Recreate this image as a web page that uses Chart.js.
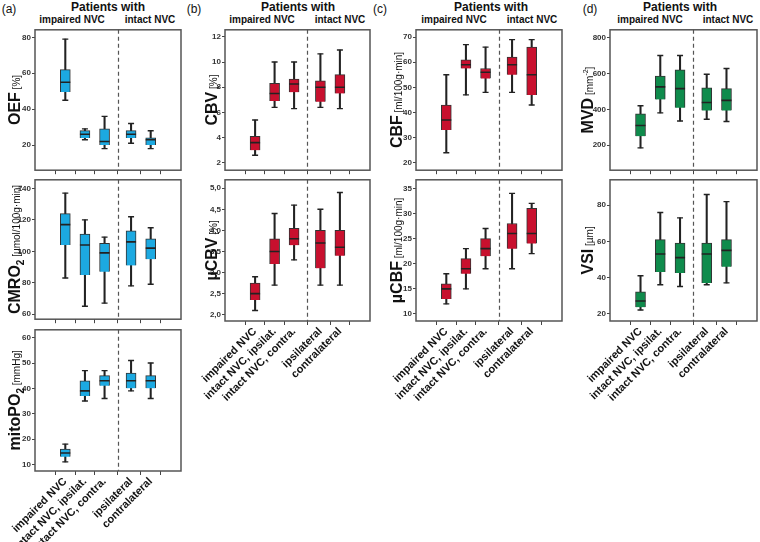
<!DOCTYPE html>
<html>
<head>
<meta charset="utf-8">
<script src="https://cdn.jsdelivr.net/npm/chart.js@4.4.1/dist/chart.umd.min.js"></script>
<style>
  body { margin: 0; background: #fff; width: 760px; height: 542px; position: relative; overflow: hidden;
         font-family: "Liberation Sans", Arial, sans-serif; }
  canvas { position: absolute; }
  .t { position: absolute; white-space: nowrap; line-height: 1; color: #111; transform: translateX(-50%); }
  .b { font-weight: bold; }
</style>
</head>
<body>
<div class="t" style="left:9px;top:3px;font-size:12px">(a)</div>
<div class="t" style="left:194px;top:3px;font-size:12px">(b)</div>
<div class="t" style="left:380px;top:3px;font-size:12px">(c)</div>
<div class="t" style="left:590px;top:3px;font-size:12px">(d)</div>

<div class="t b" style="left:108px;top:1px;font-size:12px">Patients with</div>
<div class="t b" style="left:298px;top:1px;font-size:12px">Patients with</div>
<div class="t b" style="left:491px;top:1px;font-size:12px">Patients with</div>
<div class="t b" style="left:680px;top:1px;font-size:12px">Patients with</div>

<div class="t b" style="left:72px;top:15px;font-size:10px">impaired NVC</div>
<div class="t b" style="left:150px;top:15px;font-size:10px">intact NVC</div>
<div class="t b" style="left:262px;top:15px;font-size:10px">impaired NVC</div>
<div class="t b" style="left:340px;top:15px;font-size:10px">intact NVC</div>
<div class="t b" style="left:454px;top:15px;font-size:10px">impaired NVC</div>
<div class="t b" style="left:532px;top:15px;font-size:10px">intact NVC</div>
<div class="t b" style="left:650px;top:15px;font-size:10px">impaired NVC</div>
<div class="t b" style="left:728px;top:15px;font-size:10px">intact NVC</div>

<script>
// groups on the x axis (gap between the two patient groups)
const groups = ["impaired NVC", "intact NVC, ipsilat.", "intact NVC, contra.", "ipsilateral", "contralateral"];
const groupPos = [1, 2, 3, 4.35, 5.35];
const splitAt = 3.675;

// (a) OEF
const oefMin = [45, 23, 18, 21, 18];
const oefQ1  = [49.5, 24, 20, 24, 20];
const oefMed = [55, 26, 22, 26, 23];
const oefQ3  = [62, 28, 29, 28, 24];
const oefMax = [79, 29, 36, 32, 28];
const oefTicks = [20, 40, 60, 80];

// (a) CMRO2
const cmroMin = [83, 65, 67, 78, 79];
const cmroQ1  = [104, 85, 87, 91, 95];
const cmroMed = [117, 104, 99, 106, 102];
const cmroQ3  = [124, 111, 105, 113, 108];
const cmroMax = [137, 120, 109, 122, 115];
const cmroTicks = [60, 80, 100, 120, 140];

// (a) mitoPO2
const mitoMin = [11, 35, 36, 39, 36];
const mitoQ1  = [13, 37, 41, 40, 40];
const mitoMed = [14.5, 39, 43, 43, 43];
const mitoQ3  = [16, 43, 45, 46, 45];
const mitoMax = [18, 47, 47, 51, 50];
const mitoTicks = [10, 20, 30, 40, 50, 60];

// (b) CBV
const cbvMin = [2.6, 6.4, 6.3, 6.4, 6.3];
const cbvQ1  = [3.0, 6.9, 7.6, 6.85, 7.5];
const cbvMed = [3.6, 7.5, 8.25, 8.0, 8.0];
const cbvQ3  = [4.1, 8.3, 8.65, 8.5, 9.0];
const cbvMax = [5.4, 10.0, 10.0, 10.65, 10.95];
const cbvTicks = [2, 4, 6, 8, 10, 12];

// (b) µCBV
const ucbvMin = [2.1, 2.7, 3.3, 2.7, 2.7];
const ucbvQ1  = [2.35, 3.2, 3.65, 3.1, 3.4];
const ucbvMed = [2.5, 3.5, 3.8, 3.7, 3.6];
const ucbvQ3  = [2.75, 3.8, 4.05, 4.0, 4.0];
const ucbvMax = [2.9, 4.4, 4.6, 4.5, 4.9];
const ucbvTicks = [2.0, 2.5, 3.0, 3.5, 4.0, 4.5, 5.0];
const ucbvTickLabels = ["2,0", "2,5", "3,0", "3,5", "4,0", "4,5", "5,0"];

// (c) CBF
const cbfMin = [24, 47, 48, 48, 43];
const cbfQ1  = [33, 57.5, 53.5, 55, 47];
const cbfMed = [37, 59, 56, 59, 55];
const cbfQ3  = [43, 61, 57.5, 62, 66];
const cbfMax = [55, 67, 66, 69, 69];
const cbfTicks = [20, 30, 40, 50, 60, 70];

// (c) µCBF
const ucbfMin = [12, 15, 19, 19, 22];
const ucbfQ1  = [13, 18, 21.5, 23, 24];
const ucbfMed = [15, 19, 23, 26, 26];
const ucbfQ3  = [16, 21, 25, 28, 31];
const ucbfMax = [18, 23, 27, 34, 32];
const ucbfTicks = [10, 15, 20, 25, 30, 35];

// (d) MVD
const mvdMin = [185, 380, 335, 345, 332];
const mvdQ1  = [250, 455, 408, 393, 393];
const mvdMed = [310, 525, 515, 438, 450];
const mvdQ3  = [375, 585, 620, 520, 515];
const mvdMax = [420, 700, 700, 595, 627];
const mvdTicks = [200, 400, 600, 800];

// (d) VSI
const vsiMin = [22, 36, 35, 36, 37];
const vsiQ1  = [23.5, 43, 42.5, 37, 46];
const vsiMed = [27, 53, 51, 53, 55];
const vsiQ3  = [32, 61, 59, 59, 61];
const vsiMax = [41, 76, 73, 86, 82];
const vsiTicks = [20, 40, 60, 80];

const blue = "#1ca9e1", red = "#c8102e", green = "#0f8b4c";
const ink = "#222";

// layout of the columns / rows
const colStart = [0, 185, 370, 560];
const frameL = [35, 225, 416, 610];
const frameR = [181, 370, 562, 757];
const titleX = [14, 211, 396, 587];
const rows = [[26, 172], [176, 321], [326, 471]];

const B = "bold 16px 'Liberation Sans', Arial";
const U = "10px 'Liberation Sans', Arial";
const S = "bold 10px 'Liberation Sans', Arial";

const panels = [
  { col: 0, row: 0, min: oefMin, q1: oefQ1, med: oefMed, q3: oefQ3, max: oefMax, ticks: oefTicks, yMin: 6, yMax: 84.2, color: blue,
    title: [["OEF", B, 0], [" [%]", U, 0]] },
  { col: 0, row: 1, min: cmroMin, q1: cmroQ1, med: cmroMed, q3: cmroQ3, max: cmroMax, ticks: cmroTicks, yMin: 56.8, yMax: 145.5, color: blue,
    title: [["CMRO", B, 0], ["2", S, 4], [" [µmol/100g·min]", U, 0]] },
  { col: 0, row: 2, min: mitoMin, q1: mitoQ1, med: mitoMed, q3: mitoQ3, max: mitoMax, ticks: mitoTicks, yMin: 7.4, yMax: 63.1, color: blue,
    title: [["mitoPO", B, 0], ["2", S, 4], [" [mmHg]", U, 0]], labels: true },
  { col: 1, row: 0, min: cbvMin, q1: cbvQ1, med: cbvMed, q3: cbvQ3, max: cbvMax, ticks: cbvTicks, yMin: 1.41, yMax: 12.56, color: red,
    title: [["CBV", B, 0], [" [%]", U, 0]] },
  { col: 1, row: 1, min: ucbvMin, q1: ucbvQ1, med: ucbvMed, q3: ucbvQ3, max: ucbvMax, ticks: ucbvTicks, tickLabels: ucbvTickLabels, yMin: 1.85, yMax: 5.2, color: red,
    title: [["µCBV", B, 0], [" [%]", U, 0]], labels: true },
  { col: 2, row: 0, min: cbfMin, q1: cbfQ1, med: cbfMed, q3: cbfQ3, max: cbfMax, ticks: cbfTicks, yMin: 17.05, yMax: 72.9, color: red,
    title: [["CBF", B, 0], [" [ml/100g·min]", U, 0]] },
  { col: 2, row: 1, min: ucbfMin, q1: ucbfQ1, med: ucbfMed, q3: ucbfQ3, max: ucbfMax, ticks: ucbfTicks, yMin: 8.6, yMax: 36.7, color: red,
    title: [["µCBF", B, 0], [" [ml/100g·min]", U, 0]], labels: true },
  { col: 3, row: 0, min: mvdMin, q1: mvdQ1, med: mvdMed, q3: mvdQ3, max: mvdMax, ticks: mvdTicks, yMin: 60.7, yMax: 843, color: green,
    title: [["MVD", B, 0], [" [mm", U, 0], ["-2", "7px 'Liberation Sans', Arial", -5], ["]", U, 0]] },
  { col: 3, row: 1, min: vsiMin, q1: vsiQ1, med: vsiMed, q3: vsiQ3, max: vsiMax, ticks: vsiTicks, yMin: 15.9, yMax: 94.1, color: green,
    title: [["VSI", B, 0], [" [µm]", U, 0]], labels: true }
];

// frame round the plot area + dashed split between the patient groups
const framePlugin = {
  id: "frame",
  beforeDatasetsDraw(chart) {
    const { ctx, chartArea: a, scales: { x } } = chart;
    const px = Math.round(x.getPixelForValue(splitAt)) + 0.5;
    ctx.save();
    ctx.strokeStyle = "#555";
    ctx.lineWidth = 1.2;
    ctx.setLineDash([4, 3]);
    ctx.beginPath();
    ctx.moveTo(px, a.top);
    ctx.lineTo(px, a.bottom);
    ctx.stroke();
    ctx.restore();
  },
  afterDraw(chart) {
    const { ctx, chartArea: a } = chart;
    ctx.save();
    ctx.strokeStyle = "#555";
    ctx.lineWidth = 1.5;
    ctx.strokeRect(a.left, a.top, a.right - a.left, a.bottom - a.top);
    ctx.restore();
  }
};

// rotated y title made of several runs (sub/superscripts, units)
const yTitlePlugin = {
  id: "ytitle",
  afterDraw(chart, args, opts) {
    const { ctx, chartArea: a } = chart;
    const parts = opts.parts;
    let w = 0;
    parts.forEach(p => { ctx.font = p[1]; w += ctx.measureText(p[0]).width; });
    ctx.save();
    ctx.translate(opts.x, (a.top + a.bottom) / 2);
    ctx.rotate(-Math.PI / 2);
    ctx.fillStyle = "#111";
    ctx.textBaseline = "alphabetic";
    let cx = -w / 2;
    parts.forEach(p => {
      ctx.font = p[1];
      ctx.fillText(p[0], cx, 6 + p[2]);
      cx += ctx.measureText(p[0]).width;
    });
    ctx.restore();
  }
};

panels.forEach(p => {
  const [top, bottom] = rows[p.row];
  const xh = p.labels ? 120 : 4;
  const left = colStart[p.col];
  const w = frameR[p.col] - left + 3;
  const h = bottom - top + 2 + xh;

  const cv = document.createElement("canvas");
  cv.width = w; cv.height = h;
  cv.style.left = left + "px";
  cv.style.top = (top - 2) + "px";
  document.body.appendChild(cv);

  const pts = arr => arr.map((v, i) => ({ x: groupPos[i], y: v }));
  const rng = (lo, hi) => lo.map((v, i) => ({ x: groupPos[i], y: [v, hi[i]] }));

  new Chart(cv, {
    data: {
      datasets: [
        { type: "scatter", data: pts(p.med), pointStyle: "line", radius: 5, borderColor: ink, borderWidth: 1.6, order: 0 },
        { type: "scatter", data: pts(p.min).concat(pts(p.max)), pointStyle: "line", radius: 3, borderColor: ink, borderWidth: 1.4, order: 1 },
        { type: "bar", data: rng(p.q1, p.q3), backgroundColor: p.color, borderColor: "#333", borderWidth: 1, barThickness: 10, grouped: false, order: 2 },
        { type: "bar", data: rng(p.min, p.max), backgroundColor: ink, barThickness: 1.4, grouped: false, order: 3 }
      ]
    },
    options: {
      responsive: false,
      animation: false,
      events: [],
      layout: { autoPadding: false, padding: { top: 2, right: 3, left: 0, bottom: 0 } },
      plugins: {
        legend: { display: false },
        tooltip: { enabled: false },
        ytitle: { parts: p.title, x: titleX[p.col] - left }
      },
      scales: {
        x: {
          type: "linear", min: 0.2, max: 6.15,
          afterBuildTicks: s => { s.ticks = groupPos.map(v => ({ value: v })); },
          afterFit: s => { s.height = xh; },
          grid: { drawOnChartArea: false, tickLength: 4, color: "#444" },
          border: { display: false },
          ticks: {
            display: !!p.labels, autoSkip: false, minRotation: 45, maxRotation: 45, padding: 0,
            color: "#111", font: { family: "'Liberation Sans', Arial", size: 11, weight: "bold" },
            callback: (v, i) => groups[i]
          }
        },
        y: {
          type: "linear", min: p.yMin, max: p.yMax,
          afterBuildTicks: s => { s.ticks = p.ticks.map(v => ({ value: v })); },
          afterFit: s => { s.width = frameL[p.col] - left; },
          grid: { drawOnChartArea: false, tickLength: 3, color: "#444" },
          border: { display: false },
          ticks: {
            padding: 1, color: "#333",
            font: { family: "'Liberation Sans', Arial", size: 8, weight: "bold" },
            callback: (v, i) => p.tickLabels ? p.tickLabels[i] : String(p.ticks[i])
          }
        }
      }
    },
    plugins: [framePlugin, yTitlePlugin]
  });
});
</script>
</body>
</html>
